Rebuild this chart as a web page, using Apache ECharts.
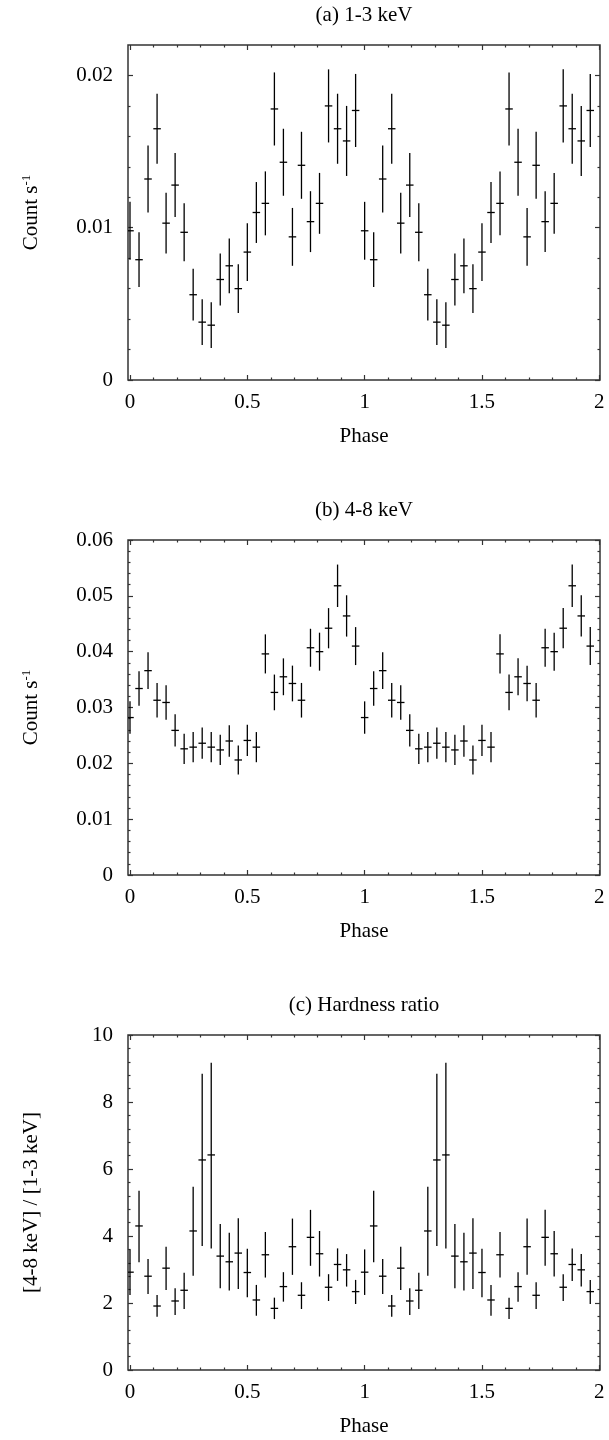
<!DOCTYPE html>
<html>
<head>
<meta charset="utf-8">
<script src="https://cdn.jsdelivr.net/npm/echarts@6/dist/echarts.min.js"></script>
<style>
html,body{margin:0;padding:0;background:#fff;}
#chart{width:609px;height:1440px;}
</style>
</head>
<body>
<div id="chart"></div>
<script>
// Phase bin centres for one cycle (plotted twice: phase 0-2)
const phase = [0, 0.0385, 0.0769, 0.1154, 0.1538, 0.1923, 0.2308, 0.2692, 0.3077, 0.3462, 0.3846, 0.4231, 0.4615,
               0.5, 0.5385, 0.5769, 0.6154, 0.6538, 0.6923, 0.7308, 0.7692, 0.8077, 0.8462, 0.8846, 0.9231, 0.9615];

// (a) 1-3 keV count rate and 1-sigma error
const rateSoft = [0.0098, 0.0079, 0.0132, 0.0165, 0.0103, 0.0128, 0.0097, 0.0056, 0.0038, 0.0036, 0.0066, 0.0075, 0.0060,
                  0.0084, 0.0110, 0.0116, 0.0178, 0.0143, 0.0094, 0.0141, 0.0104, 0.0116, 0.0180, 0.0165, 0.0157, 0.0177];
const errSoft  = [0.0019, 0.0018, 0.0022, 0.0023, 0.0020, 0.0021, 0.0019, 0.0017, 0.0015, 0.0015, 0.0017, 0.0018, 0.0016,
                  0.0019, 0.0020, 0.0021, 0.0024, 0.0022, 0.0019, 0.0022, 0.0020, 0.0020, 0.0024, 0.0023, 0.0023, 0.0024];

// (b) 4-8 keV count rate and 1-sigma error
const rateHard = [0.0282, 0.0334, 0.0366, 0.0313, 0.0309, 0.0259, 0.0226, 0.0229, 0.0236, 0.0229, 0.0224, 0.0240, 0.0206,
                  0.0241, 0.0229, 0.0396, 0.0327, 0.0355, 0.0343, 0.0313, 0.0407, 0.0400, 0.0442, 0.0518, 0.0464, 0.0410];
const errHard  = [0.0029, 0.0031, 0.0033, 0.0031, 0.0031, 0.0029, 0.0027, 0.0027, 0.0028, 0.0027, 0.0027, 0.0028, 0.0026,
                  0.0028, 0.0027, 0.0035, 0.0032, 0.0033, 0.0032, 0.0031, 0.0034, 0.0034, 0.0036, 0.0038, 0.0037, 0.0034];

// (c) hardness ratio with lower / upper error bounds
const ratio   = [2.92, 4.30, 2.80, 1.91, 3.04, 2.06, 2.38, 4.15, 6.27, 6.42, 3.40, 3.23, 3.49,
                 2.91, 2.09, 3.44, 1.84, 2.49, 3.68, 2.23, 3.96, 3.47, 2.47, 3.15, 2.99, 2.34];
const ratioLo = [2.24, 3.22, 2.27, 1.59, 2.39, 1.64, 1.82, 2.81, 3.70, 3.63, 2.44, 2.37, 2.42,
                 2.17, 1.62, 2.76, 1.52, 2.04, 2.84, 1.82, 3.11, 2.79, 2.06, 2.66, 2.49, 1.97];
const ratioHi = [3.60, 5.35, 3.31, 2.24, 3.68, 2.44, 2.90, 5.47, 8.84, 9.17, 4.36, 4.10, 4.53,
                 3.62, 2.54, 4.12, 2.16, 2.92, 4.52, 2.62, 4.78, 4.15, 2.86, 3.63, 3.46, 2.69];

// Tick labels / tick positions
const xMajorTicks = [0, 0.5, 1, 1.5, 2];
const xMinorTicks = [0.1,0.2,0.3,0.4,0.6,0.7,0.8,0.9,1.1,1.2,1.3,1.4,1.6,1.7,1.8,1.9];
const yMajorA = [0, 0.01, 0.02];
const yMinorA = [0.002,0.004,0.006,0.008,0.012,0.014,0.016,0.018];
const yMajorB = [0, 0.01, 0.02, 0.03, 0.04, 0.05, 0.06];
const yMinorB = [0.002,0.004,0.006,0.008,0.012,0.014,0.016,0.018,0.022,0.024,0.026,0.028,
                 0.032,0.034,0.036,0.038,0.042,0.044,0.046,0.048,0.052,0.054,0.056,0.058];
const yMajorC = [0, 2, 4, 6, 8, 10];
const yMinorC = [0.4,0.8,1.2,1.6,2.4,2.8,3.2,3.6,4.4,4.8,5.2,5.6,6.4,6.8,7.2,7.6,8.4,8.8,9.2,9.6];

const titles = ['(a) 1-3 keV', '(b) 4-8 keV', '(c) Hardness ratio'];
const xName = 'Phase';

// ---------------------------------------------------------------
const FONT = '"Liberation Serif", "Times New Roman", serif';
const FS = 21;
const XMIN = -0.0085, XMAX = 2.003;
const HW = 0.016; // half-width of horizontal bar (phase units)
const GRID_TOPS = [45, 540, 1035];
const GRID_H = 335;

function build(vals, lo, hi) {
  const out = [];
  for (let c = 0; c < 2; c++) {
    for (let i = 0; i < phase.length; i++) {
      out.push([phase[i] + c, vals[i], lo[i], hi[i]]);
    }
  }
  return out;
}
const dataA = build(rateSoft, rateSoft.map((v,i)=>v-errSoft[i]), rateSoft.map((v,i)=>v+errSoft[i]));
const dataB = build(rateHard, rateHard.map((v,i)=>v-errHard[i]), rateHard.map((v,i)=>v+errHard[i]));
const dataC = build(ratio, ratioLo, ratioHi);

const fmt = v => String(Math.round(v * 10000) / 10000);
const tickStyle = {color: '#333', width: 1.2};
const MAJ = 5, MIN = 2.5;

function xAxes(gi) {
  const base = {type: 'value', gridIndex: gi, min: XMIN, max: XMAX, offset: 0,
                axisLine: {show: false, onZero: false}, splitLine: {show: false}};
  return [
    Object.assign({}, base, {position: 'bottom',
      axisTick: {show: true, inside: true, length: MAJ, customValues: xMajorTicks, lineStyle: tickStyle},
      axisLabel: {show: true, customValues: xMajorTicks, margin: 12, color: '#000',
                  fontFamily: FONT, fontSize: FS, formatter: fmt}}),
    Object.assign({}, base, {position: 'bottom',
      axisTick: {show: true, inside: true, length: MIN, customValues: xMinorTicks, lineStyle: tickStyle},
      axisLabel: {show: false}}),
    Object.assign({}, base, {position: 'top',
      axisTick: {show: true, inside: true, length: MAJ, customValues: xMajorTicks, lineStyle: tickStyle},
      axisLabel: {show: false}}),
    Object.assign({}, base, {position: 'top',
      axisTick: {show: true, inside: true, length: MIN, customValues: xMinorTicks, lineStyle: tickStyle},
      axisLabel: {show: false}})
  ];
}
function yAxes(gi, max, major, minor) {
  const base = {type: 'value', gridIndex: gi, min: 0, max: max, offset: 0,
                axisLine: {show: false, onZero: false}, splitLine: {show: false}};
  return [
    Object.assign({}, base, {position: 'left',
      axisTick: {show: true, inside: true, length: MAJ, customValues: major, lineStyle: tickStyle},
      axisLabel: {show: true, customValues: major, margin: 15, color: '#000',
                  fontFamily: FONT, fontSize: FS, formatter: fmt}}),
    Object.assign({}, base, {position: 'left',
      axisTick: {show: true, inside: true, length: MIN, customValues: minor, lineStyle: tickStyle},
      axisLabel: {show: false}}),
    Object.assign({}, base, {position: 'right',
      axisTick: {show: true, inside: true, length: MAJ, customValues: major, lineStyle: tickStyle},
      axisLabel: {show: false}}),
    Object.assign({}, base, {position: 'right',
      axisTick: {show: true, inside: true, length: MIN, customValues: minor, lineStyle: tickStyle},
      axisLabel: {show: false}})
  ];
}

function renderItem(params, api) {
  const x = api.value(0), y = api.value(1), lo = api.value(2), hi = api.value(3);
  const pLo = api.coord([x, lo]);
  const pHi = api.coord([x, hi]);
  const pL = api.coord([x - HW, y]);
  const pR = api.coord([x + HW, y]);
  const st = {stroke: '#000', lineWidth: 1.3};
  return {
    type: 'group',
    children: [
      {type: 'line', shape: {x1: pLo[0], y1: pLo[1], x2: pHi[0], y2: pHi[1]}, style: st},
      {type: 'line', shape: {x1: pL[0], y1: pL[1], x2: pR[0], y2: pR[1]}, style: st}
    ]
  };
}

const grids = GRID_TOPS.map(t => ({left: 128, top: t, width: 472, height: GRID_H,
  show: true, borderColor: '#333', borderWidth: 1.5, backgroundColor: 'transparent'}));

const xAxis = [].concat(xAxes(0), xAxes(1), xAxes(2));
const yAxis = [].concat(yAxes(0, 0.022, yMajorA, yMinorA), yAxes(1, 0.06, yMajorB, yMinorB), yAxes(2, 10, yMajorC, yMinorC));

const series = [dataA, dataB, dataC].map((d, gi) => ({
  type: 'custom', xAxisIndex: gi * 4, yAxisIndex: gi * 4, clip: true,
  renderItem: renderItem, data: d, encode: {x: 0, y: 1}, silent: true
}));

const yNames = ['Count s{sup|-1}', 'Count s{sup|-1}', '[4-8 keV] / [1-3 keV]'];

const graphic = [];
GRID_TOPS.forEach((t, gi) => {
  graphic.push({type: 'text', x: 364, y: t - 30, style: {text: titles[gi], fontFamily: FONT, fontSize: FS,
    fill: '#000', align: 'center', verticalAlign: 'middle'}});
  graphic.push({type: 'text', x: 364, y: t + GRID_H + 56, style: {text: xName, fontFamily: FONT, fontSize: FS,
    fill: '#000', align: 'center', verticalAlign: 'middle'}});
  graphic.push({type: 'text', x: 31, y: t + GRID_H / 2, rotation: Math.PI / 2,
    style: {text: yNames[gi], fontFamily: FONT, fontSize: FS, fill: '#000', align: 'center', verticalAlign: 'middle',
      rich: {sup: {fontFamily: FONT, fontSize: 13, fill: '#000', verticalAlign: 'top', lineHeight: 12, padding: [0, 0, 10, 0]}}}});
});

const chart = echarts.init(document.getElementById('chart'), null, {renderer: 'canvas'});
chart.setOption({
  backgroundColor: '#fff',
  animation: false,
  grid: grids,
  xAxis: xAxis,
  yAxis: yAxis,
  series: series,
  graphic: graphic
});
</script>
</body>
</html>
